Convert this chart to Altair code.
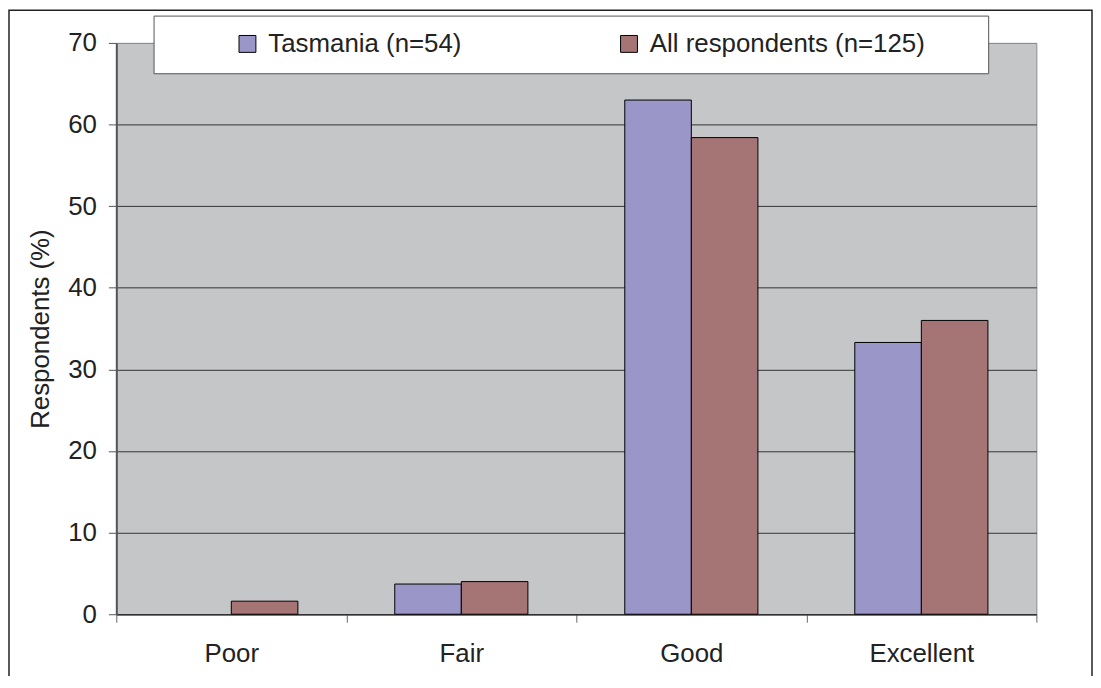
import altair as alt
import pandas as pd

categories = ["Poor", "Fair", "Good", "Excellent"]
series_names = ["Tasmania (n=54)", "All respondents (n=125)"]
tasmania = [0.0, 3.7, 63.0, 33.3]
all_respondents = [1.6, 4.0, 58.4, 36.0]
series_colors = ["#9b96c8", "#a57474"]
y_ticks = [0, 10, 20, 30, 40, 50, 60, 70]

rows = []
for cat, v in zip(categories, tasmania):
    rows.append({"category": cat, "series": series_names[0], "value": v})
for cat, v in zip(categories, all_respondents):
    rows.append({"category": cat, "series": series_names[1], "value": v})
df = pd.DataFrame(rows)

FONT = "Liberation Sans"
TXT = "#222222"

bars = alt.Chart(df).transform_filter("datum.value > 0").mark_bar(
    stroke="#000000", strokeWidth=1
).encode(
    x=alt.X(
        "category:N",
        sort=categories,
        scale=alt.Scale(domain=categories, paddingInner=0, paddingOuter=0),
        axis=alt.Axis(
            title=None, labelAngle=0, labelFont=FONT, labelFontSize=26,
            labelColor=TXT, labelPadding=19, tickBand="extent", tickSize=8,
            tickColor="#666666", domainColor="#333333", domainWidth=1.5,
            grid=False,
        ),
    ),
    xOffset=alt.XOffset(
        "series:N", sort=series_names,
        scale=alt.Scale(domain=series_names, paddingInner=0, paddingOuter=0.7276),
    ),
    y=alt.Y(
        "value:Q",
        scale=alt.Scale(domain=[0, 70], nice=False, zero=True),
        axis=alt.Axis(
            values=y_ticks, title="Respondents (%)", titleFont=FONT,
            titleFontSize=26, titleFontWeight="normal", titleColor=TXT,
            titlePadding=14, labelFont=FONT, labelFontSize=26, labelColor=TXT,
            labelPadding=12, tickSize=8, tickColor="#555555",
            domainColor="#555555", domainWidth=2, grid=True,
            gridColor=alt.condition("datum.value == 70", alt.value("#8c8c8c"), alt.value("#333333")),
            gridWidth=1,
        ),
    ),
    color=alt.Color(
        "series:N",
        sort=series_names,
        scale=alt.Scale(domain=series_names, range=series_colors),
        legend=alt.Legend(
            title=None, orient="none", legendX=119, legendY=-12,
            direction="horizontal", symbolType="square", symbolSize=289,
            symbolStrokeColor="#000000", symbolStrokeWidth=1, symbolOpacity=1,
            labelFont=FONT, labelFontSize=26, labelColor=TXT, labelOffset=8,
            labelLimit=500, columnPadding=155, padding=0,
        ),
    ),
)

one = alt.Data(values=[{"k": 1}])

legend_box = alt.Chart(one).mark_rect(fill="#ffffff", stroke="#555555", strokeWidth=1).encode(
    x=alt.value(38), x2=alt.value(878), y=alt.value(-27), y2=alt.value(31)
)

outer_border = alt.Chart(one).mark_rect(fill=None, stroke="#222222", strokeWidth=1.5).encode(
    x=alt.value(-108), x2=alt.value(982), y=alt.value(-33), y2=alt.value(700)
)

chart = alt.layer(bars, legend_box, outer_border).properties(
    width=926,
    height=575,
    autosize=alt.AutoSizeParams(type="none"),
    padding={"left": 109, "top": 33, "right": 57, "bottom": 60},
    background="#ffffff",
).configure_view(fill="#c5c6c8", stroke="#8c8c8c", strokeWidth=1)

chart.save("out.html", embed_options={"renderer": "svg", "actions": False})
